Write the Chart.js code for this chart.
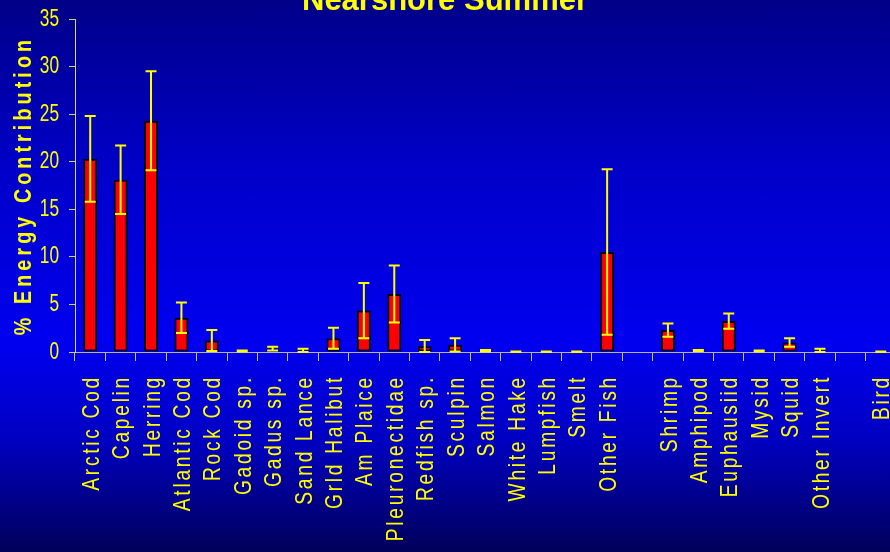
<!DOCTYPE html>
<html>
<head>
<meta charset="utf-8">
<script src="https://cdn.jsdelivr.net/npm/chart.js@4"></script>
<style>
  html, body { margin: 0; padding: 0; width: 890px; height: 552px; overflow: hidden; }
  body { background: linear-gradient(to bottom, #000088 0%, #0000c8 30%, #0000f0 62%, #0000c0 80%, #00005a 100%); }
  #wrap { width: 900px; height: 552px; }
</style>
</head>
<body>
<div id="wrap"><canvas id="c" width="900" height="552"></canvas></div>
<script>
const categories = ["Arctic Cod","Capelin","Herring","Atlantic Cod","Rock Cod","Gadoid sp.","Gadus sp.","Sand Lance","Grld Halibut","Am Plaice","Pleuronectidae","Redfish sp.","Sculpin","Salmon","White Hake","Lumpfish","Smelt","Other Fish","","Shrimp","Amphipod","Euphausiid","Mysid","Squid","Other Invert","","Bird"];
const energyMean = [20.3,18.1,24.3,3.6,1.2,0.1,0.35,0.15,1.45,4.35,6.1,0.6,0.75,0.12,0.03,0.03,0.03,10.5,null,2.3,0.15,3.25,0.1,1.0,0.15,null,0.03];
const energyErr = [4.5,3.6,5.2,1.6,1.1,0.05,0.2,0.2,1.1,2.9,3.0,0.65,0.7,0.08,0.02,0.02,0.02,8.7,null,0.7,0.05,0.8,0.05,0.45,0.2,null,0.02];
const yTicks = [0,5,10,15,20,25,30,35];
const chartTitle = 'Nearshore Summer';

const sans = "'Liberation Sans', Arial, sans-serif";

const canvas = document.getElementById('c');
const ctx2d = canvas.getContext('2d');
let textScaleX = 1;
const origFill = ctx2d.fillText.bind(ctx2d);
ctx2d.fillText = function(t, x, y, mw) {
  if (textScaleX === 1) { return mw === undefined ? origFill(t, x, y) : origFill(t, x, y, mw); }
  ctx2d.save();
  ctx2d.translate(x, y);
  ctx2d.scale(textScaleX, 1);
  origFill(t, 0, 0);
  ctx2d.restore();
};

function patch(scale, method, spacing, sx) {
  if (scale['_p_' + method]) return;
  const orig = scale[method];
  scale[method] = function(...a) {
    const c = this.ctx; const prev = c.letterSpacing;
    c.letterSpacing = spacing; textScaleX = sx;
    orig.apply(this, a);
    c.letterSpacing = prev; textScaleX = 1;
  };
  scale['_p_' + method] = true;
}

const stylePlugin = {
  id: 'styleText',
  beforeDraw(chart) {
    patch(chart.scales.x, 'drawLabels', '3.4px', 0.8);
    patch(chart.scales.y, 'drawTitle', '5px', 0.82);
    patch(chart.scales.y, 'drawLabels', '0px', 0.72);
  },
  afterDraw(chart) {
    const c = chart.ctx;
    c.save();
    c.fillStyle = '#ffff00';
    c.font = "bold 31px " + sans;
    c.textAlign = 'center';
    c.textBaseline = 'alphabetic';
    c.fillText(chartTitle, 445, 10);
    c.restore();
  }
};

const errorBars = {
  id: 'errorBars',
  afterDatasetsDraw(chart) {
    const ctx = chart.ctx, y = chart.scales.y;
    const meta = chart.getDatasetMeta(0);
    ctx.save();
    ctx.strokeStyle = '#ffff00';
    ctx.lineWidth = 2;
    energyMean.forEach((v, i) => {
      const e = energyErr[i];
      if (v == null || e == null) return;
      const x = meta.data[i].x;
      const yHi = y.getPixelForValue(v + e);
      const yLo = y.getPixelForValue(Math.max(0, v - e));
      const half = 5.5;
      ctx.beginPath();
      ctx.moveTo(x, yHi); ctx.lineTo(x, yLo);
      ctx.moveTo(x - half, yHi); ctx.lineTo(x + half, yHi);
      ctx.moveTo(x - half, yLo); ctx.lineTo(x + half, yLo);
      ctx.stroke();
    });
    ctx.restore();
  }
};

new Chart(canvas, {
  type: 'bar',
  data: {
    labels: categories,
    datasets: [{
      data: energyMean,
      backgroundColor: '#ff0000',
      borderColor: '#000000',
      borderWidth: 2,
      borderSkipped: false,
      categoryPercentage: 1,
      barPercentage: 0.46
    }]
  },
  options: {
    responsive: false,
    animation: false,
    devicePixelRatio: 1,
    layout: { padding: { left: 0, right: 4, top: 19, bottom: 0 } },
    plugins: {
      legend: { display: false },
      tooltip: { enabled: false },
      title: { display: false }
    },
    scales: {
      x: {
        grid: { display: true, drawOnChartArea: false, offset: true, color: '#c8c890', tickLength: 9, lineWidth: 1 },
        border: { display: true, color: '#b4b4b4', width: 1 },
        ticks: {
          color: '#ffff00', autoSkip: false, minRotation: 90, maxRotation: 90, padding: 14, labelOffset: 2,
          font: { family: sans, size: 24 }
        },
        afterFit(s) { s.height = 200; s.paddingLeft = 0; s.paddingRight = 0; }
      },
      y: {
        min: 0, max: 35,
        afterBuildTicks(s) { s.ticks = yTicks.map(v => ({ value: v })); },
        grid: { display: true, drawOnChartArea: false, color: '#d0d070', tickLength: 6 },
        border: { display: true, color: '#d8d870', width: 1 },
        ticks: { color: '#ffff00', padding: 10, font: { family: sans, size: 24 } },
        title: {
          display: true, text: '% Energy Contribution', color: '#ffff00',
          font: { family: sans, size: 24, weight: 'bold', lineHeight: 1.2 },
          padding: { top: 10, bottom: 0 }
        },
        afterFit(s) { s.width = 75; s.paddingTop = 0; s.paddingBottom = 0; }
      }
    }
  },
  plugins: [errorBars, stylePlugin]
});
</script>
</body>
</html>
